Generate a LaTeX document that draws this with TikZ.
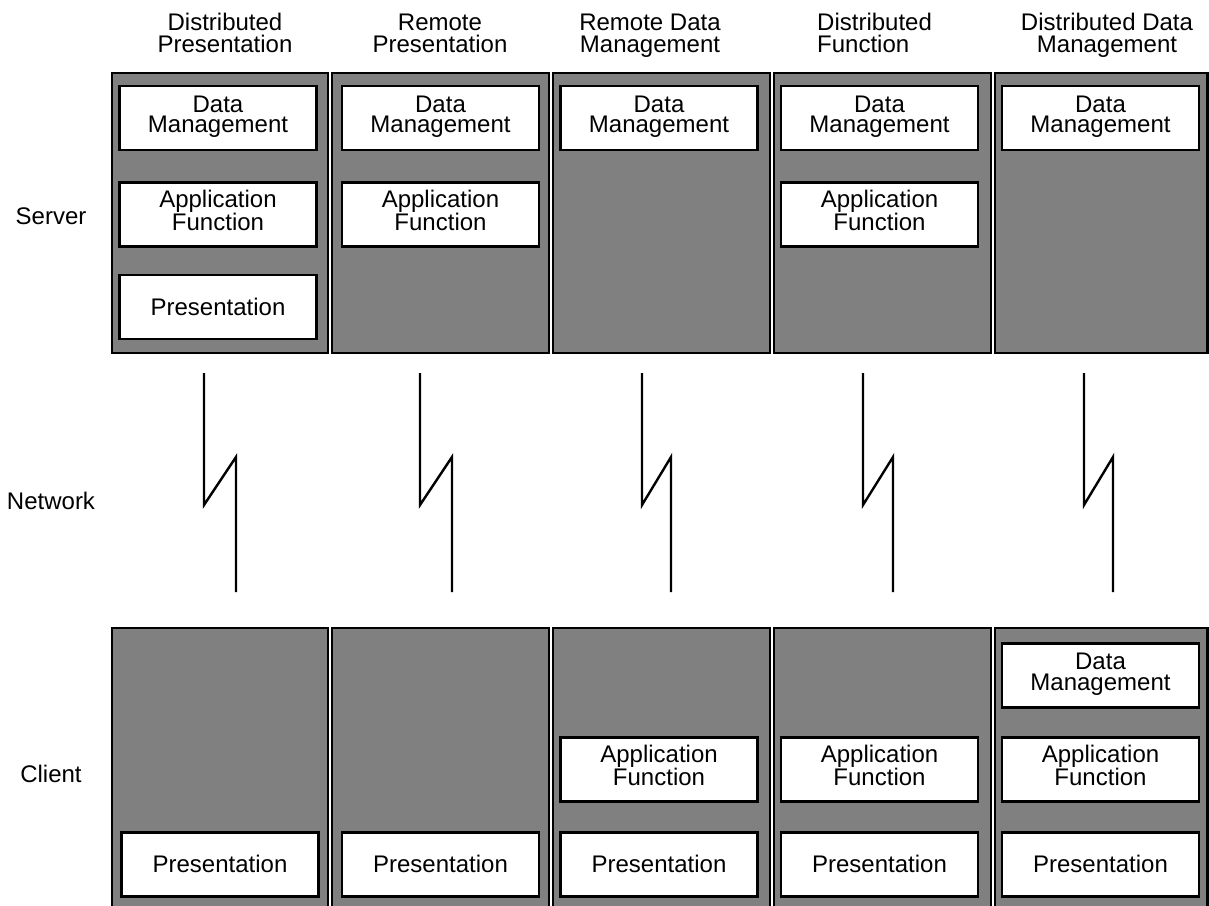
\documentclass[tikz,border=0pt]{standalone}
\usepackage{fontspec}
\setmainfont{Liberation Sans}
\definecolor{tiergray}{HTML}{808080}
\begin{document}
\begin{tikzpicture}[x=1pt,y=-1pt,
  panel/.style={draw=black, line width=2.4pt, fill=tiergray, inner sep=0pt},
  layer/.style={draw=black, line width=2.4pt, fill=white, inner sep=0pt,
    minimum width=197pt, align=center,
    font=\fontsize{24pt}{20.5pt}\selectfont},
  twoline/.style={layer, minimum height=64pt, text depth=8pt},
  oneline/.style={layer, minimum height=64pt, text depth=1pt},
  caption/.style={anchor=base, inner sep=0pt, font=\fontsize{24pt}{22pt}\selectfont},
  bolt/.style={draw=black, line width=2.4pt, line join=miter}]
\useasboundingbox (0,0) rectangle (1209,905);
\clip (0,0) rectangle (1209,905);

% column headers
\node[caption] (h1a) at (225,30) {Distributed};
\node[caption] (h1b) at (225,52) {Presentation};
\node[caption] (h2a) at (440,30) {Remote};
\node[caption] (h2b) at (440,52) {Presentation};
\node[caption] (h3a) at (650,30) {Remote Data};
\node[caption] (h3b) at (650,52) {Management};
\node[caption, anchor=base west] (h4a) at (817,30) {Distributed};
\node[caption, anchor=base west] (h4b) at (817,52) {Function};
\node[caption] (h5a) at (1107,30) {Distributed Data};
\node[caption] (h5b) at (1107,52) {Management};

% tier labels
\node[caption] (lsrv) at (51,224) {Server};
\node[caption] (lnet) at (51,509) {Network};
\node[caption] (lcli) at (51,782) {Client};

% server and client panels
\foreach \i/\l/\r in {1/112/328, 2/332/549, 3/553/770, 4/774/991, 5/995/1207.5}{
  \node[panel, minimum width={(\r-\l)*1pt}, minimum height=280pt] (srv\i) at ({(\l+\r)/2},213) {};
  \node[panel, minimum width={(\r-\l)*1pt}, minimum height=292pt] (cli\i) at ({(\l+\r)/2},774) {};
}

% server layers
\node[twoline] (s1dm) at (218,118) {Data\\Management};
\node[twoline] (s1af) at (218,214.5) {Application\\Function};
\node[oneline] (s1pr) at (218,307) {Presentation};
\node[twoline] (s2dm) at (440.5,118) {Data\\Management};
\node[twoline] (s2af) at (440.5,214.5) {Application\\Function};
\node[twoline] (s3dm) at (659,118) {Data\\Management};
\node[twoline] (s4dm) at (879.5,118) {Data\\Management};
\node[twoline] (s4af) at (879.5,214.5) {Application\\Function};
\node[twoline] (s5dm) at (1100.5,118) {Data\\Management};

% client layers
\node[oneline] (c1pr) at (220,864.5) {Presentation};
\node[oneline] (c2pr) at (440.5,864.5) {Presentation};
\node[twoline] (c3af) at (659,769.5) {Application\\Function};
\node[oneline] (c3pr) at (659,864.5) {Presentation};
\node[twoline] (c4af) at (879.5,769.5) {Application\\Function};
\node[oneline] (c4pr) at (879.5,864.5) {Presentation};
\node[twoline] (c5dm) at (1100.5,675.5) {Data\\Management};
\node[twoline] (c5af) at (1100.5,769.5) {Application\\Function};
\node[oneline] (c5pr) at (1100.5,864.5) {Presentation};

% network links (lightning bolts)
\foreach \i/\a/\b in {1/204/236, 2/420/452, 3/642/671, 4/863/893, 5/1084/1113}{
  \coordinate (nt\i) at (\a,373);
  \coordinate (nk\i) at (\a,505);
  \coordinate (nj\i) at (\b,457);
  \coordinate (nb\i) at (\b,592);
  \draw[bolt] (nt\i) -- (nk\i) -- (nj\i) -- (nb\i);
}
\end{tikzpicture}
\end{document}
